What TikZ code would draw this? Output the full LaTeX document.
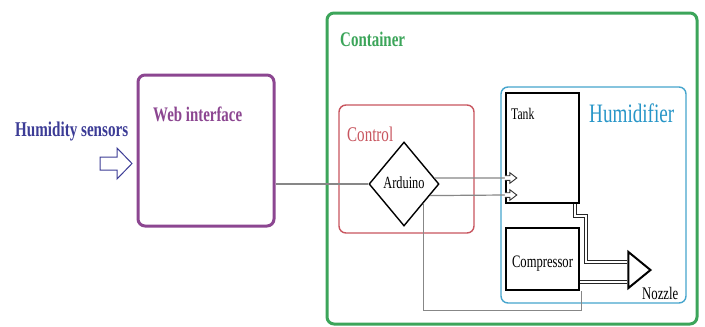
\documentclass[tikz,border=0pt]{standalone}
\usepackage{fontspec}
\setmainfont[FakeStretch=0.72]{Liberation Serif}
\usetikzlibrary{shapes.geometric,calc}
\definecolor{cgreen}{RGB}{60,165,90}
\definecolor{cpurple}{RGB}{140,70,145}
\definecolor{cnavy}{RGB}{60,60,150}
\definecolor{cred}{RGB}{200,85,95}
\definecolor{ccyan}{RGB}{70,165,205}
\definecolor{ccyantext}{RGB}{40,150,200}
\definecolor{cgray}{RGB}{135,135,135}
\begin{document}
\begin{tikzpicture}[x=1pt,y=-1pt,
  box/.style={draw,rounded corners=7pt,inner sep=0pt},
  blk/.style={draw=black,line width=2.4pt,inner sep=0pt},
  lbl/.style={inner sep=0pt,anchor=base west},
  wire/.style={draw=cgray,line width=1.2pt},
  pipe/.style={draw=black!85,line width=0.9pt,double=white,double distance=2.2pt},
  harrow/.style={draw,line width=1pt,fill=white,line join=miter}]
\useasboundingbox[fill=white] (0,0) rectangle (705,327);

% containers
\node[box,draw=cgreen,line width=3pt,minimum width=370pt,minimum height=311pt] (cont) at (512,168.5) {};
\node[box,draw=cpurple,line width=3pt,minimum width=136pt,minimum height=151pt] (web) at (206,150.5) {};
\node[box,draw=cred,line width=1.4pt,minimum width=135pt,minimum height=128pt] (ctrl) at (406.5,169) {};
\node[box,draw=ccyan,line width=1.4pt,minimum width=185pt,minimum height=216pt] (hum) at (593.5,195) {};

% labels
\node[lbl,text=cnavy,font=\fontsize{21}{24}\selectfont\bfseries] (hs) at (15,136) {Humidity sensors};
\node[lbl,text=cpurple,font=\fontsize{20.7}{24}\selectfont\bfseries] (webt) at (153,121) {Web interface};
\node[lbl,text=cgreen,font=\fontsize{20.8}{24}\selectfont\bfseries] (contt) at (340,46) {Container};
\node[lbl,text=cred,font=\fontsize{20.9}{24}\selectfont] (ctrlt) at (347,141) {Control};
\node[lbl,text=ccyantext,font=\fontsize{26.6}{30}\selectfont] (humt) at (589,122) {Humidifier};

% inner blocks
\node[blk,minimum width=73pt,minimum height=110pt] (tank) at (542.5,148) {};
\node[lbl,font=\fontsize{16.2}{18}\selectfont] (tankt) at (511,119) {Tank};
\node[blk,minimum width=73pt,minimum height=62pt] (comp) at (542.5,259) {};
\node[inner sep=0pt,anchor=base,font=\fontsize{17.5}{20}\selectfont] (compt) at (comp.center |- 0,267) {Compressor};
\node[draw=black,line width=1.4pt,diamond,aspect=0.833,minimum width=70pt,minimum height=84pt,inner sep=0pt] (ard) at (404,184) {};
\node[inner sep=0pt,anchor=base,font=\fontsize{17.1}{20}\selectfont] (ardt) at (ard.center |- 0,188) {Arduino};
\node[draw=black,line width=2pt,isosceles triangle,isosceles triangle stretches,
      minimum width=36pt,minimum height=22pt,inner sep=0pt] (noz) at (637,270) {};
\node[lbl,font=\fontsize{17.7}{20}\selectfont] (nozt) at (642,299) {Nozzle};

% humidity sensors arrow
\draw[harrow,draw=cnavy] (100,157) -- (117,157) -- (117,148) -- (132,163.5) -- (117,179) -- (117,170) -- (100,170) -- cycle;

% connectors
\draw[wire] (web.east |- ard.west) -- (ard.west);
\draw[wire] (ard.11) -- (tank.west |- 0,178) coordinate (ta1);
\draw[wire] (ard.-24) -- (tank.west |- 0,195) coordinate (ta2);
\foreach \c in {ta1,ta2}{
  \draw[harrow,draw=black!80,line width=0.9pt] ($(\c)+(0,-2.3)$) -- ++(5,0) -- ++(0,-3) -- ($(\c)+(12,0)$) -- ($(\c)+(5,5.3)$) -- ++(0,-3) -- ++(-5,0);
}
\draw[wire] (ard.-45) |- ($(comp.south east)+(1,19)$) -- ($(comp.south east)+(1,0)$);

% pipes
\draw[pipe] ($(tank.south east)+(-5,0)$) -- ++(0,12) -- ++(11,0) |- (noz.west |- 0,262);
\draw[pipe] (comp.east |- 0,282) -- (noz.west |- 0,282);
\end{tikzpicture}
\end{document}
